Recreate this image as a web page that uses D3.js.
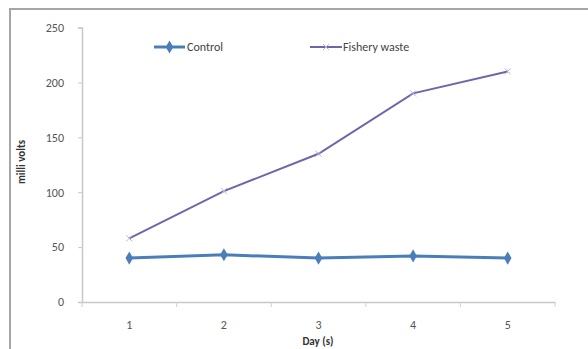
<!DOCTYPE html>
<html><head><meta charset="utf-8">
<script src="https://cdn.jsdelivr.net/npm/d3@7"></script>
<style>body{margin:0;background:#fff}svg{display:block}text{font-family:Calibri,Carlito,"Liberation Sans",Arial,sans-serif}</style>
</head><body><svg id="c" width="588" height="349"></svg>
<script>
const days = ["1","2","3","4","5"];
const control = [40, 43, 40, 42, 40];
const fishery = [58, 101, 135, 190, 210];
const yTicks = [0, 50, 100, 150, 200, 250];
const seriesNames = ["Control", "Fishery waste"];

const svg = d3.select("#c");
// outer frame
svg.append("rect").attr("x",10).attr("y",9).attr("width",590).attr("height",360)
  .attr("fill","#fff").attr("stroke","#a6a6a6").attr("stroke-width",2);

const x = d3.scaleBand().domain(days).range([82,555]);
const y = d3.scaleLinear().domain([0,250]).range([302,27.5]);
const cx = d => x(d) + x.bandwidth()/2;

// y axis
const ya = svg.append("g").attr("transform","translate(82,0)")
  .call(d3.axisLeft(y).tickValues(yTicks).tickSize(4).tickPadding(14));
ya.select(".domain").attr("stroke","#c8c8c8").attr("stroke-width",1.5);
ya.selectAll(".tick line").attr("stroke","#c8c8c8");
ya.selectAll("text").attr("fill","#555").attr("font-size",12);

// x axis
const xa = svg.append("g").attr("transform","translate(0,302)")
  .call(d3.axisBottom(x).tickSize(0).tickPadding(18));
xa.select(".domain").attr("stroke","#c8c8c8").attr("stroke-width",1.5);
xa.selectAll("text").attr("fill","#555").attr("font-size",12);
// tick marks at band boundaries
const bounds = days.map(d => x(d)).concat([x.range()[1]]);
svg.append("g").selectAll("line").data(bounds).join("line")
  .attr("x1",d=>d).attr("x2",d=>d).attr("y1",302).attr("y2",307)
  .attr("stroke","#d0d0d0");

// axis titles
svg.append("text").attr("x",318).attr("y",345).attr("text-anchor","middle")
  .attr("font-size",11).attr("font-weight","bold").attr("fill","#333").text("Day (s)");
svg.append("text").attr("transform","translate(25,162) rotate(-90)").attr("text-anchor","middle")
  .attr("font-size",11).attr("font-weight","bold").attr("fill","#333").text("milli volts");

const cBlue = "#4a7ebb", cPurple = "#6f65ad";
const line = d3.line().x((d,i)=>cx(days[i])).y(d=>y(d));

// fishery
svg.append("path").datum(fishery).attr("d",line).attr("fill","none")
  .attr("stroke",cPurple).attr("stroke-width",2);
svg.append("g").selectAll("path").data(fishery).join("path")
  .attr("d",(d,i)=>{const px=cx(days[i]),py=y(d),s=3;return `M${px-s},${py-s}L${px+s},${py+s}M${px-s},${py+s}L${px+s},${py-s}`;})
  .attr("stroke","#b9b3d8").attr("stroke-width",1);

// control
svg.append("path").datum(control).attr("d",line).attr("fill","none")
  .attr("stroke",cBlue).attr("stroke-width",3);
const diamond = d3.symbol().type(d3.symbolDiamond).size(50);
svg.append("g").selectAll("path").data(control).join("path")
  .attr("transform",(d,i)=>`translate(${cx(days[i])},${y(d)})`)
  .attr("d",diamond).attr("fill",cBlue);

// legend
const lg = svg.append("g");
lg.append("line").attr("x1",154).attr("x2",185).attr("y1",47).attr("y2",47).attr("stroke",cBlue).attr("stroke-width",3);
lg.append("path").attr("transform","translate(169.5,47)").attr("d",diamond).attr("fill",cBlue);
lg.append("text").attr("x",187).attr("y",51).attr("font-size",12).attr("fill","#444").text(seriesNames[0]);
lg.append("line").attr("x1",310).attr("x2",342).attr("y1",47).attr("y2",47).attr("stroke",cPurple).attr("stroke-width",2);
lg.append("path").attr("d","M323,44L329,50M323,50L329,44").attr("stroke","#b9b3d8").attr("stroke-width",1);
lg.append("text").attr("x",343).attr("y",51).attr("font-size",12).attr("fill","#444").text(seriesNames[1]);
</script></body></html>
